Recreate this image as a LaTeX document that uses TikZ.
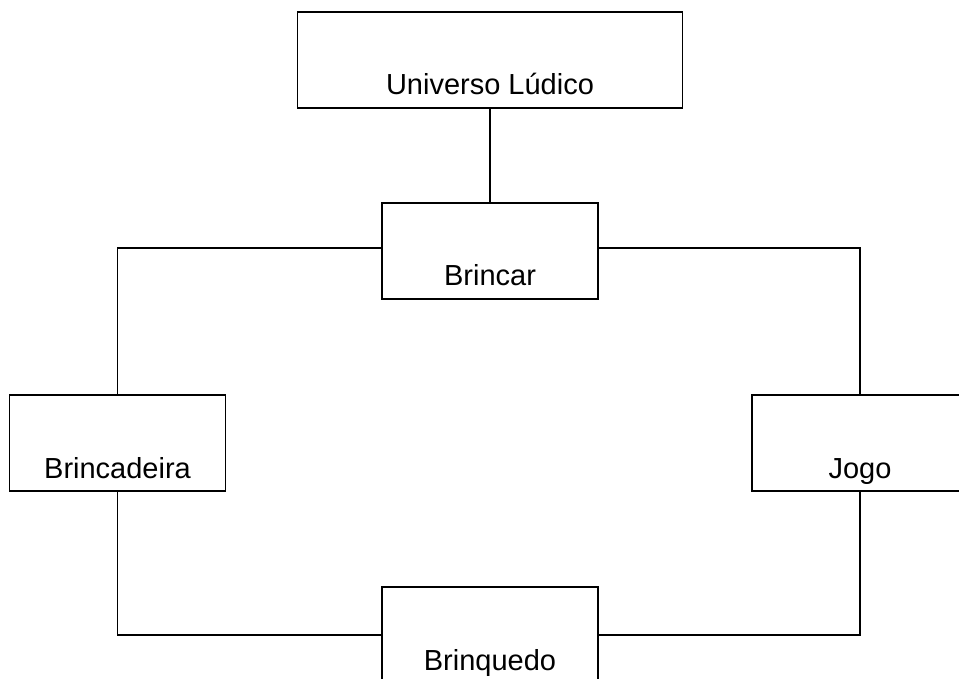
\documentclass[tikz,border=0pt]{standalone}
\usepackage{fontspec}
\setmainfont{Liberation Sans}
\begin{document}
\begin{tikzpicture}[x=1pt,y=-1pt,
  box/.style={draw,line width=1.3pt,inner sep=0pt,text height=83pt,text depth=13pt,
    minimum width=216pt,font=\fontsize{29}{35}\selectfont},
  conn/.style={line width=1.3pt}]
\useasboundingbox (0,0) rectangle (959,679);
\node[box,minimum width=385pt] (U) at (490,60) {Universo Lúdico};
\node[box] (B) at (490,251) {Brincar};
\node[box] (Bc) at (117.5,443) {Brincadeira};
\node[box] (J) at (860,443) {Jogo};
\node[box] (Bq) at (490,635) {Brinquedo};
\draw[conn] (U.south) -- (B.north);
\draw[conn] ([yshift=3pt]B.west) -| (Bc.north);
\draw[conn] ([yshift=3pt]B.east) -| (J.north);
\draw[conn] (Bc.south) |- (Bq.west);
\draw[conn] (J.south) |- (Bq.east);
\end{tikzpicture}
\end{document}
